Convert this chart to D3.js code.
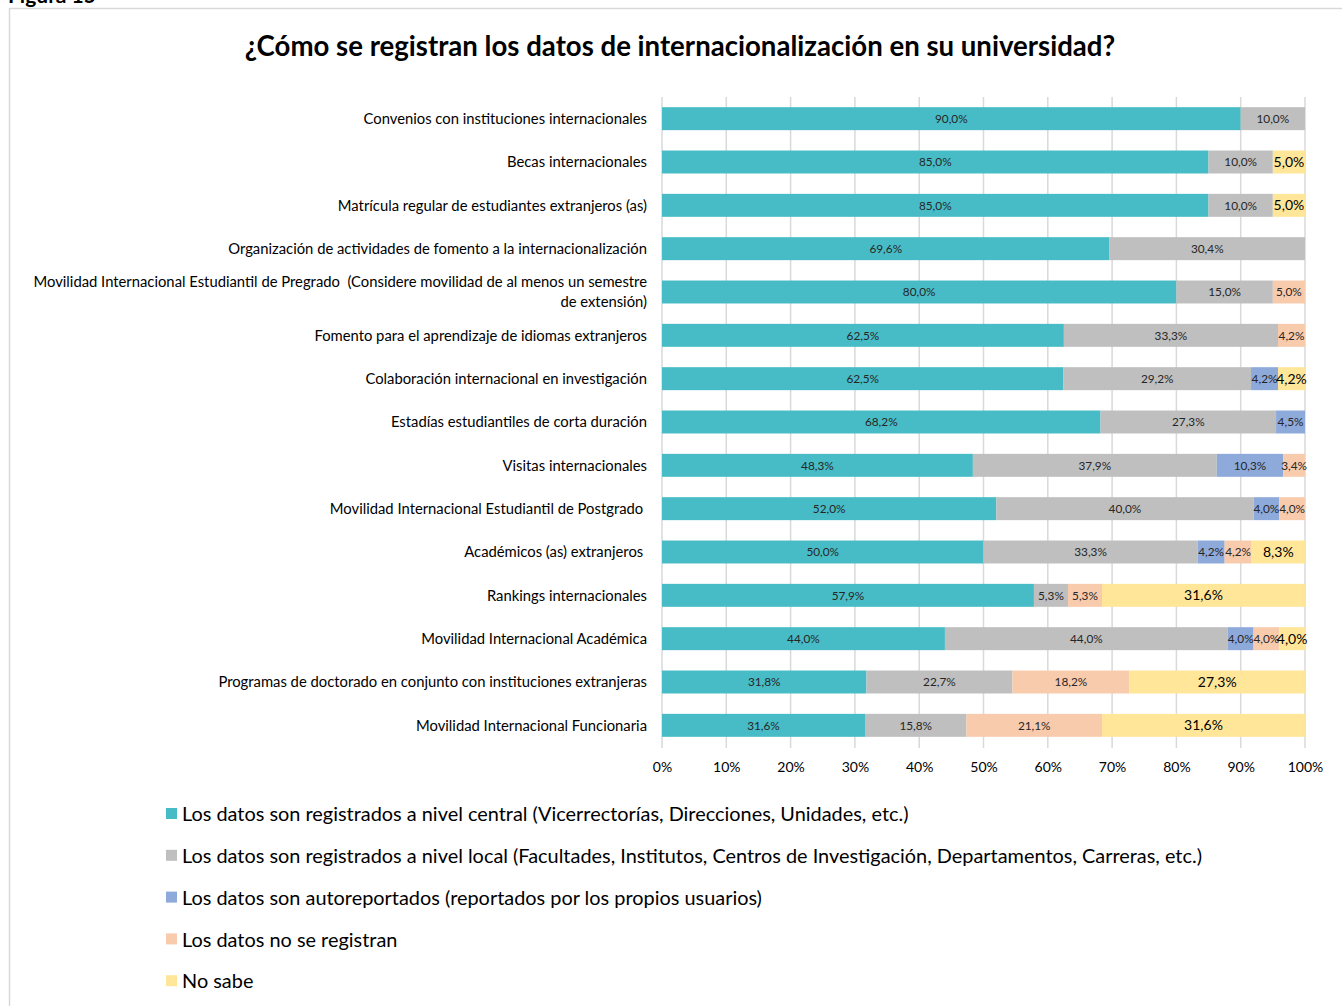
<!DOCTYPE html>
<html lang="es">
<head>
<meta charset="utf-8">
<title>¿Cómo se registran los datos de internacionalización en su universidad?</title>
<script src="https://cdn.jsdelivr.net/npm/d3@7"></script>
<style>
  body { margin: 0; background: #fff; }
  svg { display: block; font-family: Lato, "Open Sans", sans-serif; }
</style>
</head>
<body>
<script>
// categories (top to bottom), label lines
var categories = [
  ["Convenios con instituciones internacionales"],
  ["Becas internacionales"],
  ["Matrícula regular de estudiantes extranjeros (as)"],
  ["Organización de actividades de fomento a la internacionalización"],
  ["Movilidad Internacional Estudiantil de Pregrado \u00a0(Considere movilidad de al menos un semestre", "de extensión)"],
  ["Fomento para el aprendizaje de idiomas extranjeros"],
  ["Colaboración internacional en investigación"],
  ["Estadías estudiantiles de corta duración"],
  ["Visitas internacionales"],
  ["Movilidad Internacional Estudiantil de Postgrado\u00a0"],
  ["Académicos (as) extranjeros\u00a0"],
  ["Rankings internacionales"],
  ["Movilidad Internacional Académica"],
  ["Programas de doctorado en conjunto con instituciones extranjeras"],
  ["Movilidad Internacional Funcionaria"]
];

var seriesNames = [
  "Los datos son registrados a nivel central (Vicerrectorías, Direcciones, Unidades, etc.)",
  "Los datos son registrados a nivel local (Facultades, Institutos, Centros de Investigación, Departamentos, Carreras, etc.)",
  "Los datos son autoreportados (reportados por los propios usuarios)",
  "Los datos no se registran",
  "No sabe"
];

// percentages per series, one value per category
var central   = [90.0, 85.0, 85.0, 69.6, 80.0, 62.5, 62.5, 68.2, 48.3, 52.0, 50.0, 57.9, 44.0, 31.8, 31.6];
var local     = [10.0, 10.0, 10.0, 30.4, 15.0, 33.3, 29.2, 27.3, 37.9, 40.0, 33.3,  5.3, 44.0, 22.7, 15.8];
var autorep   = [   0,    0,    0,    0,    0,    0,  4.2,  4.5, 10.3,  4.0,  4.2,    0,  4.0,    0,    0];
var noRegistr = [   0,    0,    0,    0,  5.0,  4.2,    0,    0,  3.4,  4.0,  4.2,  5.3,  4.0, 18.2, 21.1];
var noSabe    = [   0,  5.0,  5.0,    0,    0,    0,  4.2,    0,    0,    0,  8.3, 31.6,  4.0, 27.3, 31.6];

var ticks = [0, 0.1, 0.2, 0.3, 0.4, 0.5, 0.6, 0.7, 0.8, 0.9, 1];

var colors = ["#47bcc6", "#bfbfbf", "#8eaadb", "#f8cbad", "#ffe699"];
var labelSize = [11.8, 11.8, 11.8, 11.8, 14];

var W = 1342, H = 1006;
var svg = d3.select("body").append("svg").attr("width", W).attr("height", H);

// frame and cut-off figure caption
svg.append("rect").attr("x", 9.5).attr("y", 8.5).attr("width", W + 20).attr("height", H + 20)
  .attr("fill", "none").attr("stroke", "#d9d9d9").attr("stroke-width", 1.5);
svg.append("text").attr("x", 8).attr("y", 3).attr("font-size", 21).attr("font-weight", "bold")
  .attr("fill", "#000").text("Figura 15");

svg.append("text").attr("x", 680).attr("y", 56).attr("text-anchor", "middle")
  .attr("font-size", 27.6).attr("font-weight", "bold").attr("fill", "#000")
  .text("¿Cómo se registran los datos de internacionalización en su universidad?");

var x = d3.scaleLinear().domain([0, 1]).range([662, 1305]);
var y = d3.scaleBand().domain(d3.range(categories.length)).range([97, 747]).paddingInner(0.47).paddingOuter(0.235);

// gridlines
svg.append("g").selectAll("line").data(ticks).join("line")
  .attr("x1", d => x(d)).attr("x2", d => x(d)).attr("y1", 97).attr("y2", 748)
  .attr("stroke", "#d9d9d9").attr("stroke-width", 1.5);

var table = categories.map(function (c, i) {
  return { i: i, vals: [central[i], local[i], autorep[i], noRegistr[i], noSabe[i]] };
});
var stack = d3.stack().keys(d3.range(5)).value((d, k) => d.vals[k]).offset(d3.stackOffsetExpand);
var layers = stack(table);

var g = svg.append("g");
layers.forEach(function (layer, k) {
  var lg = g.append("g");
  lg.selectAll("rect").data(layer.filter(d => d.data.vals[k] > 0)).join("rect")
    .attr("x", d => x(d[0])).attr("width", d => x(d[1]) - x(d[0]))
    .attr("y", d => y(d.data.i)).attr("height", y.bandwidth())
    .attr("fill", colors[k]);
  lg.selectAll("text").data(layer.filter(d => d.data.vals[k] > 0)).join("text")
    .attr("x", d => (x(d[0]) + x(d[1])) / 2)
    .attr("y", d => y(d.data.i) + y.bandwidth() / 2)
    .attr("dy", "0.36em").attr("text-anchor", "middle")
    .attr("font-size", labelSize[k]).attr("fill", k === 4 ? "#000" : "#262626")
    .text(d => d.data.vals[k].toFixed(1).replace(".", ",") + "%");
});

// category labels
var cl = svg.append("g").selectAll("text").data(categories).join("text")
  .attr("text-anchor", "end").attr("font-size", 14.8).attr("fill", "#000")
  .attr("x", 647)
  .attr("y", (d, i) => y(i) + y.bandwidth() / 2 - (d.length - 1) * 10);
cl.selectAll("tspan").data(d => d).join("tspan")
  .attr("x", 647).attr("dy", (d, j) => j === 0 ? "0.36em" : 20).text(d => d);

// x axis
var xAxis = svg.append("g").attr("transform", "translate(0,748)")
  .call(d3.axisBottom(x).tickValues(ticks).tickSize(0).tickPadding(14).tickFormat(d3.format(".0%")));
xAxis.select(".domain").remove();
xAxis.selectAll("text").attr("font-size", 14).attr("fill", "#000").attr("font-family", "Lato, sans-serif");

// legend
var lgd = svg.append("g").selectAll("g").data(seriesNames).join("g")
  .attr("transform", (d, i) => "translate(166," + (814 + i * 41.8) + ")");
lgd.append("rect").attr("x", 0).attr("y", -6).attr("width", 11).attr("height", 11)
  .attr("fill", (d, i) => colors[i]);
lgd.append("text").attr("x", 16).attr("dy", "0.36em").attr("font-size", 19.9).attr("fill", "#000").text(d => d);
</script>
</body>
</html>
